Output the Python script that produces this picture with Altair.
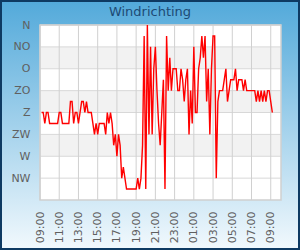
import json
import altair as alt
import pandas as pd

# ---- data ----
title_text = ["Windrichting"]
dir_labels = ["", "NW", "W", "ZW", "Z", "ZO", "O", "NO", "N"]   # value 0..8
levels = [1, 2, 3, 4, 5, 6, 7, 8]
band_lo = [2, 4, 6]
band_hi = [3, 5, 7]

wind = [
    4, 4, 3.5, 4, 4, 3.5, 3.5, 3.5, 3.5, 3.5,
    3.5, 4, 4, 3.5, 3.5, 3.5, 3.5, 3.5, 4.5, 4.5,
    3.5, 4, 4, 3.5, 4, 4.5, 4.5, 4, 4.5, 4,
    4, 4, 3.5, 3, 3.5, 3, 3.5, 3.5, 3.5, 3.5,
    3, 4, 3.5, 4, 3.5, 2.5, 3, 2, 3, 2.5,
    1, 1.5, 1, 0.5, 0.5, 0.5, 0.5, 0.5, 0.5, 0.5,
    1, 0.5, 1, 2.5, 7.5, 0.5, 8, 3, 7, 3,
    6, 7, 5, 3.5, 2.5, 4, 5.5, 0.5, 7.5, 5,
    6.5, 5, 6, 6, 6, 5, 5, 6, 5.5, 4.5,
    5.5, 6, 3, 5, 3.5, 7, 4, 4, 6, 6.5,
    7.5, 6.5, 7.5, 4.5, 6, 3, 6, 7.5, 7.5, 1,
    4.5, 5, 5, 5, 5.5, 6, 4.5, 5, 5.5, 5.5,
    5.5, 6, 5, 5.5, 5.5, 5.5, 5, 5.5, 5, 5,
    5, 5, 5, 5, 4.5, 5, 4.5, 5, 4.5, 5,
    4.5, 5, 5, 4.5, 4,
]
times = pd.date_range("2024-01-01 09:10", periods=len(wind), freq="10min")
tick_times = pd.date_range("2024-01-01 09:00", periods=13, freq="2h")

df = pd.DataFrame({"t": times, "v": wind})
tick_df = pd.DataFrame({"t": tick_times})
level_df = pd.DataFrame({"lvl": levels})
band_df = pd.DataFrame({"lo": band_lo, "hi": band_hi})
title_df = pd.DataFrame({"txt": title_text})
one = pd.DataFrame({"k": [0]})

# whole canvas is the view; the plot area is set by the scale ranges
CW, CH = 300, 250
X0, X1, Y0, Y1 = 40, 281, 25, 200

xscale = alt.Scale(domain=[alt.DateTime(year=2024, month=1, date=1, hours=9),
                           alt.DateTime(year=2024, month=1, date=2, hours=10, minutes=4)],
                   range=[X0, X1])
yscale = alt.Scale(domain=[0, 8], nice=False, zero=False, range=[Y1, Y0])
tick_dt = [alt.DateTime(year=t.year, month=t.month, date=t.day, hours=t.hour, minutes=0)
           for t in tick_times]
label_expr = json.dumps(dir_labels) + "[datum.value]"

xaxis = alt.Axis(values=tick_dt, format="%H:%M", labelAngle=270,
                 labelAlign="right", labelBaseline="middle",
                 labelPadding=11, ticks=False, tickSize=0, domain=False,
                 grid=False, title=None, labelFont="DejaVu Sans",
                 labelFontSize=11, labelColor="#606060", zindex=2,
                 offset=-(CH - Y1), labelOverlap=False, labelFlush=False)
yaxis = alt.Axis(values=levels, labelExpr=label_expr, labelPadding=10,
                 ticks=False, tickSize=0, domain=False, grid=False,
                 title=None, labelFont="DejaVu Sans", labelFontSize=11,
                 labelColor="#606060", zindex=2, offset=-X0, labelOverlap=False)

grad = alt.LinearGradient(
    gradient="linear",
    stops=[alt.GradientStop(color="#52a9da", offset=0),
           alt.GradientStop(color="#f2f9fd", offset=1)],
    x1=0, x2=0, y1=0, y2=1,
)

bg = alt.Chart(one).mark_rect(fill=grad).encode(
    x=alt.value(0), x2=alt.value(CW), y=alt.value(0), y2=alt.value(CH),
)
frame = alt.Chart(one).mark_rect(fill="transparent", stroke="#0e3a62", strokeWidth=2).encode(
    x=alt.value(1), x2=alt.value(CW - 1), y=alt.value(1), y2=alt.value(CH - 1),
)
plotbg = alt.Chart(one).mark_rect(fill="white").encode(
    x=alt.value(X0), x2=alt.value(X1), y=alt.value(Y0), y2=alt.value(Y1)
)
bands = alt.Chart(band_df).mark_rect(fill="#f2f2f2").encode(
    x=alt.value(X0), x2=alt.value(X1),
    y=alt.Y("lo:Q", scale=yscale, axis=yaxis), y2="hi:Q",
)
hgrid = alt.Chart(level_df).mark_rule(color="#d8d8d8", strokeWidth=1).encode(
    y=alt.Y("lvl:Q", scale=yscale, axis=yaxis), x=alt.value(X0), x2=alt.value(X1)
)
vgrid = alt.Chart(tick_df).mark_rule(color="#d0d0d0", strokeWidth=1).encode(
    x=alt.X("t:T", scale=xscale, axis=xaxis), y=alt.value(Y0), y2=alt.value(Y1)
)
border = alt.Chart(one).mark_rect(fill="transparent", stroke="#cfcfcf", strokeWidth=1.5).encode(
    x=alt.value(X0), x2=alt.value(X1), y=alt.value(Y0), y2=alt.value(Y1)
)
title = alt.Chart(title_df).mark_text(
    font="DejaVu Sans", fontSize=13, color="#1d4a74", align="center", baseline="alphabetic"
).encode(x=alt.value(CW / 2), y=alt.value(16), text="txt:N")

line = alt.Chart(df).mark_line(color="#ff0000", strokeWidth=1.4).encode(
    x=alt.X("t:T", scale=xscale, axis=xaxis),
    y=alt.Y("v:Q", scale=yscale, axis=yaxis),
)

chart = alt.layer(bg, plotbg, bands, hgrid, vgrid, border, line, title, frame).properties(
    width=CW, height=CH,
    autosize="none",
    padding=0,
).configure_view(strokeWidth=0)

chart.save("out.html", embed_options={"renderer": "svg", "actions": False})
